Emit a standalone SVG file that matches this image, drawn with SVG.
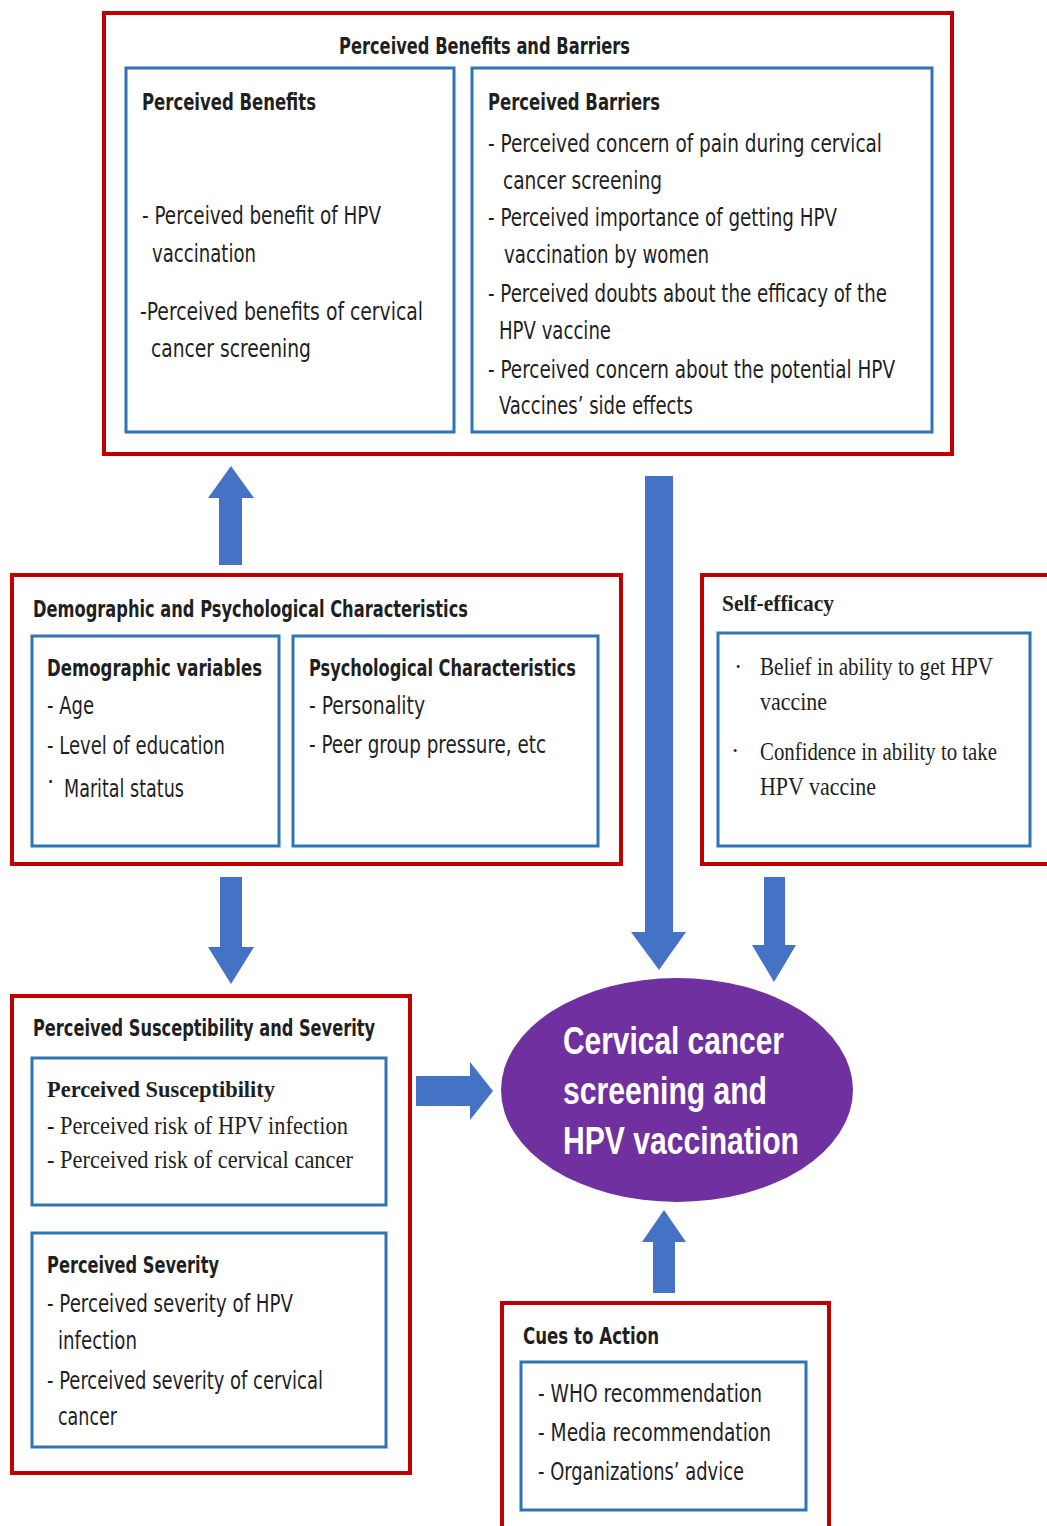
<svg xmlns="http://www.w3.org/2000/svg" width="1047" height="1526" viewBox="0 0 1047 1526">
  <style>
    .red { fill: #ffffff; stroke: #c00000; stroke-width: 4; }
    .blue { fill: #ffffff; stroke: #2e75b6; stroke-width: 3; }
    .arrow { fill: #4472c4; }
    .t { font-family: "Liberation Sans Narrow", "DejaVu Sans Condensed", "Liberation Sans", sans-serif; font-size: 25px; fill: #1f1f1f; }
    .b { font-weight: bold; font-size: 23px; }
    .s { font-family: "Liberation Serif", "DejaVu Serif", serif; }
    .core { font-family: "Liberation Sans", Arial, sans-serif; font-size: 38px; font-weight: bold; fill: #ffffff; }
  </style>

  <rect width="1047" height="1526" fill="#ffffff"/>

  <!-- connectors: block arrows between constructs -->
  <g id="connectors">
    <polygon class="arrow" points="219,565 242,565 242,498 254,498 231,466 208,498 219,498"/>
    <polygon class="arrow" points="645,476 673,476 673,932 686,932 659,970 631,932 645,932"/>
    <polygon class="arrow" points="220,877 242,877 242,947 254,947 231,984 208,947 220,947"/>
    <polygon class="arrow" points="764,877 785,877 785,945 796,945 774,982 752,945 764,945"/>
    <polygon class="arrow" points="416,1076 470,1076 470,1062 493,1091 470,1120 470,1106 416,1106"/>
    <polygon class="arrow" points="653,1293 675,1293 675,1242 686,1242 664,1210 642,1242 653,1242"/>
  </g>

  <!-- Perceived Benefits and Barriers -->
  <g id="benefits-barriers">
    <rect class="red" x="104" y="13" width="848" height="441"/>
    <text class="t b" x="339" y="54" textLength="291" lengthAdjust="spacingAndGlyphs">Perceived Benefits and Barriers</text>
    <g id="benefits">
      <rect class="blue" x="126" y="68" width="328" height="364"/>
      <text class="t b" x="142" y="110" textLength="174" lengthAdjust="spacingAndGlyphs">Perceived Benefits</text>
      <text class="t" x="142" y="224" textLength="239" lengthAdjust="spacingAndGlyphs">- Perceived benefit of HPV</text>
      <text class="t" x="152" y="262" textLength="104" lengthAdjust="spacingAndGlyphs">vaccination</text>
      <text class="t" x="140" y="320" textLength="283" lengthAdjust="spacingAndGlyphs">-Perceived benefits of cervical</text>
      <text class="t" x="151" y="357" textLength="160" lengthAdjust="spacingAndGlyphs">cancer screening</text>
    </g>
    <g id="barriers">
      <rect class="blue" x="472" y="68" width="460" height="364"/>
      <text class="t b" x="488" y="110" textLength="172" lengthAdjust="spacingAndGlyphs">Perceived Barriers</text>
      <text class="t" x="488" y="152" textLength="394" lengthAdjust="spacingAndGlyphs">- Perceived concern of pain during cervical</text>
      <text class="t" x="503" y="189" textLength="159" lengthAdjust="spacingAndGlyphs">cancer screening</text>
      <text class="t" x="488" y="226" textLength="349" lengthAdjust="spacingAndGlyphs">- Perceived importance of getting HPV</text>
      <text class="t" x="504" y="263" textLength="205" lengthAdjust="spacingAndGlyphs">vaccination by women</text>
      <text class="t" x="488" y="302" textLength="399" lengthAdjust="spacingAndGlyphs">- Perceived doubts about the efficacy of the</text>
      <text class="t" x="499" y="339" textLength="112" lengthAdjust="spacingAndGlyphs">HPV vaccine</text>
      <text class="t" x="488" y="378" textLength="407" lengthAdjust="spacingAndGlyphs">- Perceived concern about the potential HPV</text>
      <text class="t" x="499" y="414" textLength="194" lengthAdjust="spacingAndGlyphs">Vaccines’ side effects</text>
    </g>
  </g>

  <!-- Demographic and Psychological Characteristics -->
  <g id="demographic-psychological">
    <rect class="red" x="12" y="575" width="609" height="289"/>
    <text class="t b" x="33" y="617" textLength="435" lengthAdjust="spacingAndGlyphs">Demographic and Psychological Characteristics</text>
    <g id="demographic-variables">
      <rect class="blue" x="32" y="636" width="247" height="210"/>
      <text class="t b" x="47" y="676" textLength="215" lengthAdjust="spacingAndGlyphs">Demographic variables</text>
      <text class="t" x="47" y="714" textLength="47" lengthAdjust="spacingAndGlyphs">- Age</text>
      <text class="t" x="47" y="754" textLength="178" lengthAdjust="spacingAndGlyphs">- Level of education</text>
      <text class="t" x="47" y="790">·</text>
      <text class="t" x="64" y="797" textLength="120" lengthAdjust="spacingAndGlyphs">Marital status</text>
    </g>
    <g id="psychological-characteristics">
      <rect class="blue" x="293" y="636" width="305" height="210"/>
      <text class="t b" x="309" y="676" textLength="267" lengthAdjust="spacingAndGlyphs">Psychological Characteristics</text>
      <text class="t" x="309" y="714" textLength="116" lengthAdjust="spacingAndGlyphs">- Personality</text>
      <text class="t" x="309" y="753" textLength="237" lengthAdjust="spacingAndGlyphs">- Peer group pressure, etc</text>
    </g>
  </g>

  <!-- Self-efficacy -->
  <g id="self-efficacy">
    <rect class="red" x="702" y="575" width="360" height="289"/>
    <text class="t b s" x="722" y="611" textLength="112" lengthAdjust="spacingAndGlyphs">Self-efficacy</text>
    <rect class="blue" x="718" y="633" width="312" height="213"/>
    <text class="t s" x="734" y="675">·</text>
    <text class="t s" x="760" y="675" textLength="233" lengthAdjust="spacingAndGlyphs">Belief in ability to get HPV</text>
    <text class="t s" x="760" y="710" textLength="67" lengthAdjust="spacingAndGlyphs">vaccine</text>
    <text class="t s" x="731" y="759">·</text>
    <text class="t s" x="760" y="760" textLength="237" lengthAdjust="spacingAndGlyphs">Confidence in ability to take</text>
    <text class="t s" x="760" y="795" textLength="116" lengthAdjust="spacingAndGlyphs">HPV vaccine</text>
  </g>

  <!-- Perceived Susceptibility and Severity -->
  <g id="susceptibility-severity">
    <rect class="red" x="12" y="996" width="398" height="477"/>
    <text class="t b" x="33" y="1036" textLength="342" lengthAdjust="spacingAndGlyphs">Perceived Susceptibility and Severity</text>
    <g id="susceptibility">
      <rect class="blue" x="32" y="1058" width="354" height="147"/>
      <text class="t b s" x="47" y="1097" textLength="228" lengthAdjust="spacingAndGlyphs">Perceived Susceptibility</text>
      <text class="t s" x="47" y="1134" textLength="301" lengthAdjust="spacingAndGlyphs">- Perceived risk of HPV infection</text>
      <text class="t s" x="47" y="1168" textLength="306" lengthAdjust="spacingAndGlyphs">- Perceived risk of cervical cancer</text>
    </g>
    <g id="severity">
      <rect class="blue" x="32" y="1233" width="354" height="214"/>
      <text class="t b" x="47" y="1273" textLength="172" lengthAdjust="spacingAndGlyphs">Perceived Severity</text>
      <text class="t" x="47" y="1312" textLength="246" lengthAdjust="spacingAndGlyphs">- Perceived severity of HPV</text>
      <text class="t" x="58" y="1349" textLength="79" lengthAdjust="spacingAndGlyphs">infection</text>
      <text class="t" x="47" y="1389" textLength="276" lengthAdjust="spacingAndGlyphs">- Perceived severity of cervical</text>
      <text class="t" x="58" y="1425" textLength="59" lengthAdjust="spacingAndGlyphs">cancer</text>
    </g>
  </g>

  <!-- Outcome -->
  <g id="outcome">
    <ellipse cx="677" cy="1090" rx="176" ry="112" fill="#7030a0"/>
    <text class="core" x="563" y="1054" textLength="221" lengthAdjust="spacingAndGlyphs">Cervical cancer</text>
    <text class="core" x="563" y="1104" textLength="204" lengthAdjust="spacingAndGlyphs">screening and</text>
    <text class="core" x="563" y="1154" textLength="236" lengthAdjust="spacingAndGlyphs">HPV vaccination</text>
  </g>

  <!-- Cues to Action -->
  <g id="cues-to-action">
    <rect class="red" x="502" y="1303" width="327" height="240"/>
    <text class="t b" x="523" y="1344" textLength="136" lengthAdjust="spacingAndGlyphs">Cues to Action</text>
    <rect class="blue" x="521" y="1362" width="285" height="148"/>
    <text class="t" x="538" y="1402" textLength="224" lengthAdjust="spacingAndGlyphs">- WHO recommendation</text>
    <text class="t" x="538" y="1441" textLength="233" lengthAdjust="spacingAndGlyphs">- Media recommendation</text>
    <text class="t" x="538" y="1480" textLength="206" lengthAdjust="spacingAndGlyphs">- Organizations’ advice</text>
  </g>
</svg>
